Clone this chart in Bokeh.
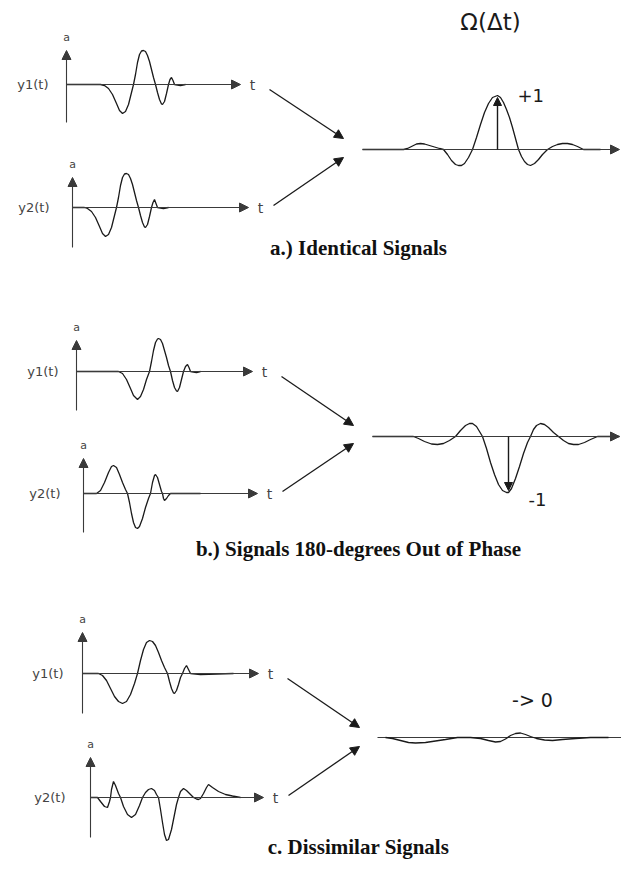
from bokeh.plotting import figure
from bokeh.models import Range1d, Arrow, NormalHead
from bokeh.core.properties import value
from bokeh.embed import file_html
from bokeh.resources import INLINE

# ---------------- data (t in px from the signal's axis origin, amplitude in px, up = +) ----------------
# Panel a : identical signals
A_Y1_T = [0, 34, 38, 42, 46, 50, 53, 56, 59, 62, 65, 67, 69, 71, 73, 75, 77, 79, 81, 83, 85, 87, 89, 91, 93, 95, 96, 98, 100, 102, 103.5, 105, 106.5, 108, 114, 119]
A_Y1_V = [0, 0, -1, -4, -10, -19, -26, -29, -27, -20, -8, 0, 10, 22, 30, 33.5, 34, 33, 29, 23, 15, 7, 0, -8, -15, -19.5, -20, -17, -9, 0, 5, 7, 4, 0, -1, 0]
A_Y2_T = [0, 12, 15, 19, 23, 27, 30, 33, 36, 39, 42, 44, 46, 48, 50, 52, 54, 56, 58, 60, 62, 64, 66, 68, 70, 72, 73, 75, 77, 79, 80.5, 82, 83.5, 85, 91, 96]
A_Y2_V = [0, 0, -1, -4, -10, -19, -26, -29, -27, -20, -8, 0, 10, 22, 30, 33.5, 34, 33, 29, 23, 15, 7, 0, -8, -15, -19.5, -20, -17, -9, 0, 5, 8, 4, 0, -1, 0]
A_OUT_T = [0, 41, 45, 50, 54, 58, 62, 67, 72, 77, 81, 85, 89, 93, 96, 99, 102, 106, 110, 114, 118, 122, 126, 130, 135, 138, 141, 144, 147, 150, 153, 156, 159, 162, 165, 168, 172, 176, 180, 185, 190, 195, 200, 205, 210, 215, 221, 238]
A_OUT_V = [0, 0, 1, 3.5, 5.5, 6, 5.5, 4, 2.5, 1, 0, -5, -11, -15, -16, -16, -14, -8, 0, 12, 25, 37, 46, 52, 54, 52, 47, 40, 32, 22, 11, 0, -7, -12, -15, -16, -14, -10, -5, 0, 3, 5, 6, 6, 5, 3, 0, 0]

# Panel b : signals 180 degrees out of phase
B_Y1_T = [0, 42, 46, 50, 54, 57, 61, 64, 67, 70, 73, 75, 77, 79, 81, 82, 84, 86, 88, 90, 92, 94, 96, 98, 100, 101, 103, 105, 107, 109, 111, 112.5, 114, 120, 124]
B_Y1_V = [0, 0, -2, -8, -17, -24, -28, -25, -18, -8, 0, 10, 21, 29, 32.5, 33, 32, 28, 21, 14, 6, 0, -9, -16, -19.5, -20, -16, -8, 0, 5, 7, 4, 0, -1, 0]
B_Y2_T = [0, 13, 17, 21, 25, 28, 30, 33, 36, 39, 42, 44, 46, 48, 50, 52, 54, 56, 59, 62, 65, 67, 69, 71, 72, 74, 76, 78, 79, 80, 81, 83, 85, 87, 117]
B_Y2_V = [0, 0, 3, 11, 21, 27, 28, 26, 19, 11, 4, 0, -9, -20, -29, -34, -35, -33, -25, -14, -5, 0, 11, 18, 19, 16, 9, 2, 0, -5, -7, -5, -2, 0, 0]
B_OUT_T = [0, 41, 46, 52, 59, 65, 71, 77, 83, 88, 93, 97, 100, 104, 107, 110, 114, 118, 122, 126, 130, 134, 136, 139, 143, 147, 151, 155, 158, 161, 164, 168, 172, 176, 181, 186, 191, 196, 201, 206, 212, 218, 225, 247]
B_OUT_V = [0, 0, -2, -5, -7.5, -8, -7, -4, 0, 6, 11, 13, 13, 10, 5, 0, -12, -26, -38, -48, -54, -56, -56, -52, -42, -30, -17, -6, 0, 7, 11, 13, 12, 9, 4, 0, -4, -7, -8, -8, -6, -3, 0, 0]

# Panel c : dissimilar signals
C_Y1_T = [0, 16, 20, 24, 28, 32, 36, 40, 44, 48, 52, 55, 58, 61, 64, 67, 70, 73, 76, 79, 82, 85, 87, 89, 91, 92, 94, 96, 98, 100, 102, 104, 106, 108, 118, 151]
C_Y1_V = [0, 0, -2, -7, -15, -23, -28, -30, -28, -21, -10, 0, 13, 24, 31, 33, 32, 28, 21, 13, 6, 0, -8, -15, -19.5, -20, -17, -11, -4, 0, 5, 8, 4, 0, -1, 0]
C_Y2_T = [0, 7, 10, 14, 17, 19, 20, 21, 23, 25, 28, 30, 33, 37, 41, 45, 49, 52, 55, 58, 61, 64, 66, 68, 70, 72, 74, 76, 78, 81, 84, 86, 88, 90, 93, 96, 99, 103, 106, 108, 110, 113, 116, 118, 122, 128, 135, 142, 150]
C_Y2_V = [0, 0, -4, -9, -10, -4, 0, 8, 16, 12, 4, 0, -9, -17, -20, -17, -8, 0, 5, 8, 9, 7, 3, 0, -12, -25, -37, -43, -42, -32, -17, -7, 0, 6, 9, 7, 4, 0, -1.5, -2, -1, 4, 10, 13, 10, 6, 3, 1.5, 0]
C_OUT_T = [8, 15, 23, 31, 38, 48, 58, 68, 80, 93, 103, 111, 118, 123, 128, 133, 138, 143, 148, 153, 159, 167, 175, 185, 198, 213, 231]
C_OUT_V = [0, -1, -3, -5, -5.5, -5, -3.5, -2, 0, 0, -1, -3, -4.5, -4, -1.5, 2, 4, 4.5, 3, 1, -1, -2.5, -3, -2, -1, 0, 0]

CAPTIONS = ["a.) Identical Signals", "b.) Signals 180-degrees Out of Phase", "c. Dissimilar Signals"]
RESULT_LABELS = ["+1", "-1", "-> 0"]
PEAK_T = [135, 136, None]       # lag of the correlation extremum
PEAK_V = [54, -56, None]        # correlation extremum
SIGNAL_LABELS = ["y1(t)", "y2(t)"]
OUT_TITLE = "\u03a9(\u0394t)"

# ---------------- layout ----------------
PANELS = [
    dict(y1=(66, 84, 174, 34, 38, 18), y2=(72, 207, 176, 30, 40, 23), out=(362, 149, 257),
         y1d=(A_Y1_T, A_Y1_V), y2d=(A_Y2_T, A_Y2_V), outd=(A_OUT_T, A_OUT_V),
         cap_y=247, arr_end=(343, 138, 343, 157), out_head=True),
    dict(y1=(76, 371, 176, 31, 39, 18), y2=(83, 493, 174, 35, 39, 23), out=(372, 436, 247),
         y1d=(B_Y1_T, B_Y1_V), y2d=(B_Y2_T, B_Y2_V), outd=(B_OUT_T, B_OUT_V),
         cap_y=548, arr_end=(353, 425, 353, 443), out_head=True),
    dict(y1=(82, 673, 176, 41, 40, 19), y2=(90, 797, 173, 40, 40, 25), out=(377, 737, 244),
         y1d=(C_Y1_T, C_Y1_V), y2d=(C_Y2_T, C_Y2_V), outd=(C_OUT_T, C_OUT_V),
         cap_y=846, arr_end=(359, 727, 359, 746), out_head=False),
]

INK = "#1a1a1a"
AXC = "#3a3a3a"
LAB = "#444444"
SANS = "DejaVu Sans"

p = figure(width=621, height=859, x_range=Range1d(0, 621), y_range=Range1d(859, 0),
           output_backend="svg", toolbar_location=None, min_border=0,
           x_axis_location=None, y_axis_location=None)
p.grid.visible = False
p.outline_line_color = None
p.background_fill_color = "white"
p.border_fill_color = "white"


def head(size=8):
    return NormalHead(size=size, line_color=AXC, fill_color=AXC, line_width=1)


def signal(geom, data, label):
    ox, oy, length, up, down, gap = geom
    t, v = data
    p.add_layout(Arrow(end=head(9), x_start=ox, y_start=oy, x_end=ox + length, y_end=oy,
                       line_color=AXC, line_width=1.1))
    p.add_layout(Arrow(end=head(9), x_start=ox, y_start=oy + down, x_end=ox, y_end=oy - up,
                       line_color=AXC, line_width=1.1))
    p.line([ox + a for a in t], [oy - b for b in v], line_color=INK, line_width=1.3)
    p.text(x=[ox - gap], y=[oy], text=[label], text_align="right", text_baseline="middle",
           text_font=value(SANS), text_font_size=value("13px"), text_color=LAB)
    p.text(x=[ox], y=[oy - up - 13], text=["a"], text_align="center", text_baseline="middle",
           text_font=value(SANS), text_font_size=value("11px"), text_color=LAB)
    p.text(x=[ox + length + 12], y=[oy], text=["t"], text_align="center", text_baseline="middle",
           text_font=value(SANS), text_font_size=value("14px"), text_color=LAB)
    return ox + length


for i, pan in enumerate(PANELS):
    e1 = signal(pan["y1"], pan["y1d"], SIGNAL_LABELS[0])
    e2 = signal(pan["y2"], pan["y2d"], SIGNAL_LABELS[1])
    ox, oy, olen = pan["out"]
    # output axis
    if pan["out_head"]:
        p.add_layout(Arrow(end=head(9), x_start=ox, y_start=oy, x_end=ox + olen, y_end=oy,
                           line_color=AXC, line_width=1.1))
    else:
        p.line([ox, ox + olen], [oy, oy], line_color=AXC, line_width=1.1)
    t, v = pan["outd"]
    p.line([ox + a for a in t], [oy - b for b in v], line_color=INK, line_width=1.3)
    # diagonal arrows
    xe1, ye1, xe2, ye2 = pan["arr_end"]
    p.add_layout(Arrow(end=NormalHead(size=9, line_color=INK, fill_color=INK),
                       x_start=e1 + 29, y_start=pan["y1"][1] + 5, x_end=xe1, y_end=ye1,
                       line_color=INK, line_width=1.3))
    p.add_layout(Arrow(end=NormalHead(size=9, line_color=INK, fill_color=INK),
                       x_start=e2 + 25, y_start=pan["y2"][1] - 2, x_end=xe2, y_end=ye2,
                       line_color=INK, line_width=1.3))
    # correlation extremum
    if PEAK_T[i] is not None:
        px = ox + PEAK_T[i]
        py = oy - PEAK_V[i]
        p.add_layout(Arrow(end=NormalHead(size=8, line_color=INK, fill_color=INK),
                           x_start=px, y_start=oy, x_end=px, y_end=py + (2 if PEAK_V[i] > 0 else -2),
                           line_color=INK, line_width=1.4))
        p.text(x=[px + 20], y=[py + (0 if PEAK_V[i] > 0 else 7)], text=[RESULT_LABELS[i]],
               text_align="left", text_baseline="middle",
               text_font=value(SANS), text_font_size=value("18px"), text_color=INK)
    else:
        p.text(x=[ox + 155], y=[oy - 38], text=[RESULT_LABELS[i]], text_align="center",
               text_baseline="middle", text_font=value(SANS), text_font_size=value("19px"),
               text_color=INK)
    # caption
    p.text(x=[358], y=[pan["cap_y"]], text=[CAPTIONS[i]], text_align="center",
           text_baseline="middle", text_font=value("Liberation Serif"),
           text_font_size=value("21px"), text_font_style="bold", text_color="#111111")

p.text(x=[490], y=[21], text=[OUT_TITLE], text_align="center", text_baseline="middle",
       text_font=value(SANS), text_font_size=value("23px"), text_color=INK)

open("out.html", "w").write(file_html(p, INLINE))
